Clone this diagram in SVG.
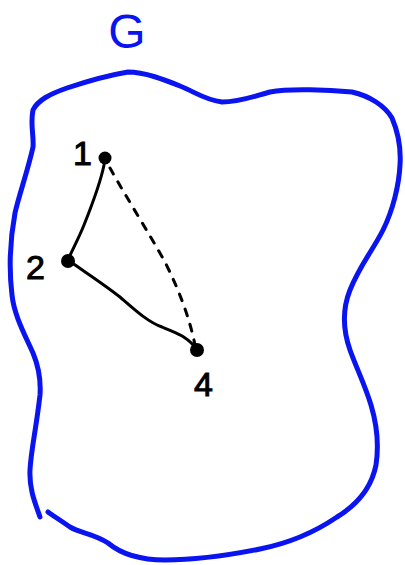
<svg xmlns="http://www.w3.org/2000/svg" width="405" height="565" viewBox="0 0 405 565">
<style>
.region{fill:none;stroke:#0a14f0;stroke-width:5;stroke-linecap:round;stroke-linejoin:round}
.edge{fill:none;stroke:#000;stroke-width:3;stroke-linecap:round}
.dash{stroke-dasharray:7 9}
.lbl{font-family:"Liberation Sans",Arial,sans-serif;font-size:34px;fill:#000;stroke:#000;stroke-width:1}
.node{fill:#000}
</style>
<rect width="405" height="565" fill="#fff"/>
<g id="region-G">
<path class="region" d="M40,517 C36,505 29,490 30,470 C31,450 36,430 40,395 C41,380 38,365 33,353 C25,335 14,315 12,295 C9,270 10,240 15,213 C19,195 28,170 33,147 C34,135 30,125 33,110 C38,100 50,94 67,88 C85,82 110,75 128,72 C145,72 165,80 180,86 C195,92 205,100 222,102 C240,102 255,96 270,92 C290,88 330,90 352,92 C370,96 385,106 392,118 C398,132 401,150 400,165 C399,185 393,210 383,230 C373,250 360,265 350,290 C342,310 343,330 350,350 C356,367 365,385 371,405 C377,425 379,445 376,465 C372,485 360,503 337,517 C315,532 290,543 260,549 C230,555 200,560 165,560 C140,560 120,553 108,543 C95,534 80,533 70,527 C60,520 52,515 48,512"/>
<text x="127" y="48" text-anchor="middle" style="font-family:'Liberation Sans',Arial,sans-serif;font-size:48px;fill:#0a14f0">G</text>
</g>
<g id="connectors">
<path class="edge" d="M104,165 C100,185 92,205 84,225 C78,240 72,250 68,260"/>
<path class="edge" d="M68,260 C85,272 105,285 120,297 C135,310 148,322 162,327 C175,333 188,336 197,350"/>
<path class="edge dash" d="M110,168 C125,195 150,235 165,262 C180,292 190,320 195,345"/>
</g>
<g id="node-1">
<circle class="node" cx="105" cy="158" r="6.5"/>
<text class="lbl" x="73" y="165">1</text>
</g>
<g id="node-2">
<circle class="node" cx="68" cy="261" r="7"/>
<text class="lbl" x="26" y="279">2</text>
</g>
<g id="node-4">
<circle class="node" cx="197" cy="350" r="7"/>
<text class="lbl" x="194" y="396">4</text>
</g>
</svg>
